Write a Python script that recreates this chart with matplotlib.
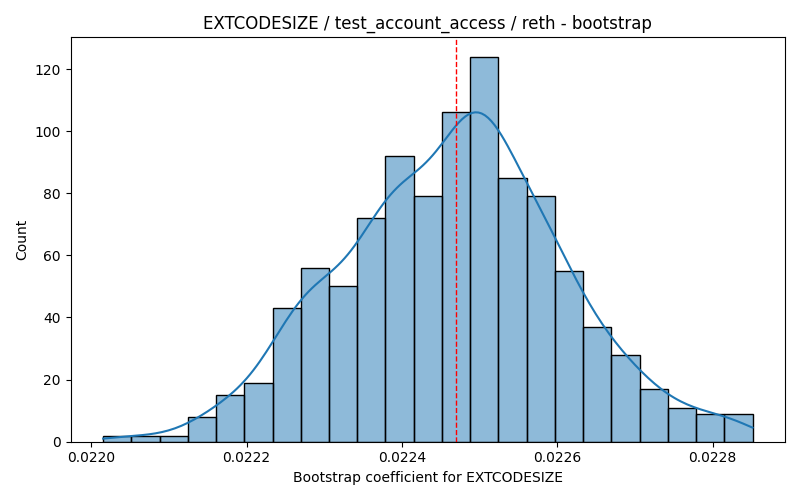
import matplotlib
matplotlib.use("Agg")
import matplotlib.pyplot as plt
import numpy as np

# Histogram (23 bins, 1000 bootstrap samples)
bin_lo = 0.0220154
bin_hi = 0.0228513
counts = [2, 2, 2, 8, 15, 19, 43, 56, 50, 72, 92, 79,
          106, 124, 85, 79, 55, 37, 28, 17, 11, 9, 9]
point_estimate = 0.0224701

edges = np.linspace(bin_lo, bin_hi, len(counts) + 1)
centers = (edges[:-1] + edges[1:]) / 2
width = edges[1] - edges[0]
counts = np.array(counts)

fig, ax = plt.subplots(figsize=(8, 5), dpi=100)
ax.bar(edges[:-1], counts, width=width, align="edge",
       facecolor=(0.122, 0.467, 0.706, 0.5), edgecolor="black", lw=1)

# gaussian kde on the binned sample, scott bandwidth, scaled to counts
n = counts.sum()
mean = np.sum(centers * counts) / n
std = np.sqrt(np.sum(counts * (centers - mean) ** 2) / (n - 1))
bw = std * n ** (-1 / 5)
grid = np.linspace(bin_lo, bin_hi, 200)
dens = (counts[None, :] * np.exp(-0.5 * ((grid[:, None] - centers[None, :]) / bw) ** 2)).sum(1)
dens = dens / (n * bw * np.sqrt(2 * np.pi))
ax.plot(grid, dens * n * width, color="C0", lw=1.5)

ax.axvline(point_estimate, color="red", ls="--", lw=1)
ax.set_title("EXTCODESIZE / test_account_access / reth - bootstrap")
ax.set_xlabel("Bootstrap coefficient for EXTCODESIZE")
ax.set_ylabel("Count")

plt.tight_layout()
plt.savefig("out.png")
